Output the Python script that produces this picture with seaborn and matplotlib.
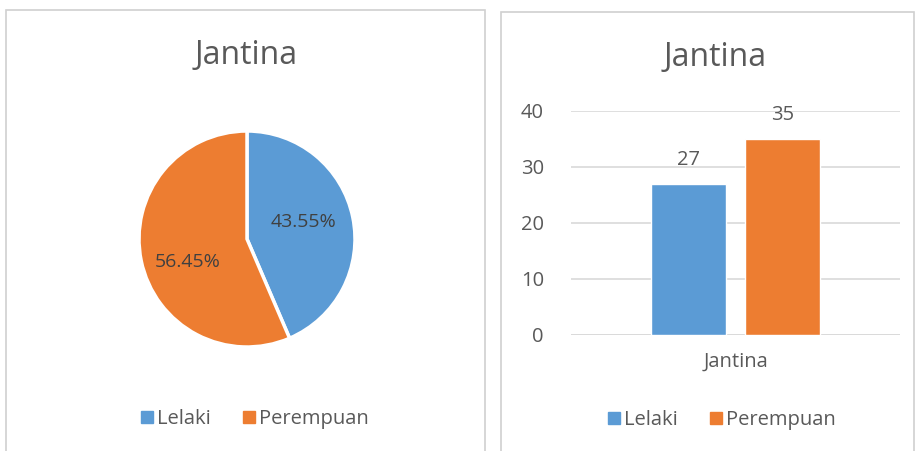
import matplotlib
matplotlib.use("Agg")
import matplotlib.pyplot as plt
import seaborn as sns
import pandas as pd
from matplotlib.patches import Rectangle
from matplotlib.lines import Line2D

categories = ["Lelaki", "Perempuan"]
counts = [27, 35]
group = "Jantina"
title = "Jantina"
colors = ["#5B9BD5", "#ED7D31"]
yticks = [0, 10, 20, 30, 40]

sns.set_theme(style="white")
plt.rcParams["font.family"] = ["Open Sans", "DejaVu Sans"]
TXT = "#595959"
FS = 14.5

W, H = 918, 451
fig = plt.figure(figsize=(W / 100, H / 100), dpi=100)
fig.patch.set_facecolor("white")

def px(x0, y0, x1, y1):
    return [x0 / W, 1 - y1 / H, (x1 - x0) / W, (y1 - y0) / H]

# panel borders
for (x0, y0, x1, y1) in [(6, 10, 485, 452), (501, 12, 914, 452)]:
    fig.patches.append(Rectangle((x0 / W, 1 - y1 / H), (x1 - x0) / W, (y1 - y0) / H,
                                 transform=fig.transFigure, fill=False,
                                 edgecolor="#D0D0D0", linewidth=1.2))

# ---- pie ----
axp = fig.add_axes(px(139, 131, 355, 347))
wedges, texts, autotexts = axp.pie(counts, colors=colors, startangle=90, counterclock=False,
                                    autopct="%.2f%%", pctdistance=0.55,
                                    wedgeprops=dict(edgecolor="white", linewidth=2.5))
label_pos = [(0.52, 0.16), (-0.55, -0.21)]
for t, p in zip(autotexts, label_pos):
    t.set_color("#404040")
    t.set_fontsize(14)
    t.set_position(p)
axp.set_xlim(-1, 1)
axp.set_ylim(-1, 1)
axp.set_aspect("equal")
fig.text(246 / W, 1 - 56 / H, title, ha="center", va="center", fontsize=23, color=TXT)

# ---- bar ----
df = pd.DataFrame({"group": [group] * len(categories), "Jenis": categories, "Bilangan": counts})
axb = fig.add_axes(px(571, 111, 900, 335))
sns.barplot(data=df, x="group", y="Bilangan", hue="Jenis", hue_order=categories,
            palette=colors, width=0.574, gap=0.206, ax=axb, legend=False, saturation=1)
axb.set_ylim(0, 40)
axb.set_xlim(-0.5, 0.5)
axb.set_yticks(yticks)
axb.yaxis.grid(True, color="#D9D9D9", linewidth=1.2)
axb.set_axisbelow(True)
for s in axb.spines.values():
    s.set_visible(False)
axb.axhline(0, color="#D9D9D9", linewidth=1.2, zorder=0.5)
axb.tick_params(axis="y", length=0, pad=19.5, labelsize=FS, labelcolor=TXT)
axb.tick_params(axis="x", length=0, pad=12, labelsize=FS, labelcolor=TXT)
axb.set_xlabel("")
axb.set_ylabel("")
for c in axb.containers:
    axb.bar_label(c, padding=10, fontsize=FS, color=TXT)
fig.text(715 / W, 1 - 57 / H, title, ha="center", va="center", fontsize=23, color=TXT)

# legends
def leg(x, y):
    handles = [Line2D([], [], marker="s", linestyle="none", markersize=8, color=c) for c in colors]
    fig.legend(handles, categories, loc="center", bbox_to_anchor=(x / W, 1 - y / H),
               ncol=2, frameon=False, fontsize=FS, labelcolor=TXT,
               handletextpad=0.0, columnspacing=1.4, handlelength=1.0)

leg(253, 419)
leg(720, 420)

fig.savefig("out.png", dpi=100)
